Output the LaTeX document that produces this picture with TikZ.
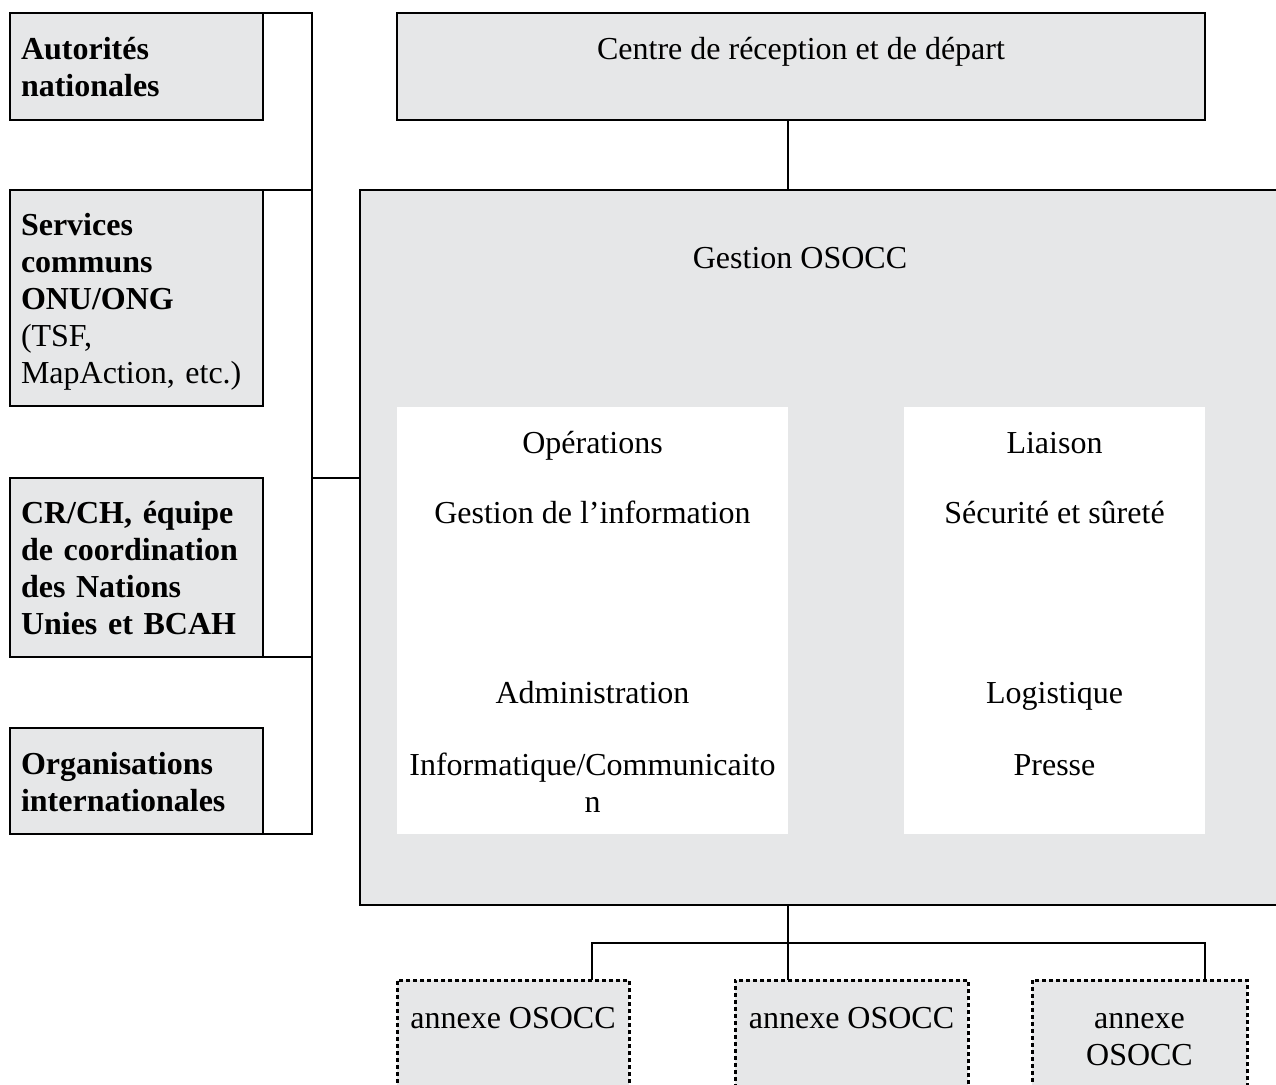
\documentclass[tikz,border=0pt]{standalone}
\usepackage{fontspec}
\setmainfont{Liberation Serif}
\definecolor{boxgray}{RGB}{230,231,232}
\begin{document}
\begin{tikzpicture}[x=0.5pt,y=-0.5pt,
  line width=1pt,
  gbox/.style={draw=black, fill=boxgray, rectangle, inner sep=0pt, outer sep=0pt, line width=1pt},
  wbox/.style={fill=white, rectangle, inner sep=0pt, outer sep=0pt},
  dbox/.style={draw=black, fill=boxgray, rectangle, inner sep=0pt, outer sep=0pt, line width=1.5pt, dash pattern=on 2pt off 1.5pt},
  lefttxt/.style={anchor=base west, inner sep=0pt, text width=120pt, align=left, font=\bfseries\fontsize{16}{18.5}\selectfont},
  ctxt/.style={anchor=base, inner sep=0pt, align=center, font=\fontsize{16}{18.5}\selectfont},
  conn/.style={draw=black, line width=1pt}
]
\useasboundingbox (0,0) rectangle (1276,1084);

% left boxes
\node[gbox, minimum width=126.5pt, minimum height=53.5pt] (auto) at (136.5,66.5) {};
\node[gbox, minimum width=126.5pt, minimum height=108pt] (serv) at (136.5,298) {};
\node[gbox, minimum width=126.5pt, minimum height=89.5pt] (crch) at (136.5,567.5) {};
\node[gbox, minimum width=126.5pt, minimum height=53pt] (org) at (136.5,781) {};

\node[lefttxt] (autot) at (20,59) {Autorités\\nationales};
\node[lefttxt] (servt) at (20,235) {Services\\communs\\ONU/ONG\\\mdseries(TSF,\\\mdseries MapAction, etc.)};
\node[lefttxt] (crcht) at (20,523) {CR/CH, équipe\\de coordination\\des Nations\\Unies et BCAH};
\node[lefttxt] (orgt) at (20,774) {Organisations\\internationales};

% top and main boxes
\node[gbox, minimum width=404pt, minimum height=53.5pt] (centre) at (801,66.5) {};
\node[ctxt] (centret) at (801,59) {Centre de réception et de départ};

\node[gbox, minimum width=470pt, minimum height=357.5pt] (main) at (830,547.5) {};
\node[ctxt] (maint) at (800,268) {Gestion OSOCC};

\node[wbox, minimum width=195.5pt, minimum height=213.5pt] (inl) at (592.5,620.5) {};
\node[wbox, minimum width=150.5pt, minimum height=213.5pt] (inr) at (1054.5,620.5) {};

\node[ctxt] (ops) at (592.5,453) {Opérations};
\node[ctxt] (gi) at (592.5,523) {Gestion de l’information};
\node[ctxt] (adm) at (592.5,703) {Administration};
\node[ctxt, text width=195pt] (ic) at (592.5,775) {Informatique/Communicaito\\n};

\node[ctxt] (lia) at (1054.5,453) {Liaison};
\node[ctxt] (sec) at (1054.5,523) {Sécurité et sûreté};
\node[ctxt] (log) at (1054.5,703) {Logistique};
\node[ctxt] (pre) at (1054.5,775) {Presse};

% annexes
\node[dbox, minimum width=116pt, minimum height=65pt] (an1) at (513,1045) {};
\node[dbox, minimum width=116.5pt, minimum height=65pt] (an2) at (851.5,1045) {};
\node[dbox, minimum width=107.5pt, minimum height=65pt] (an3) at (1139.5,1045) {};
\node[ctxt] (an1t) at (513,1028) {annexe OSOCC};
\node[ctxt] (an2t) at (851.5,1028) {annexe OSOCC};
\node[ctxt, text width=100pt] (an3t) at (1139.5,1028) {annexe\\OSOCC};

% connectors
\coordinate (trunkT) at (312,13);
\coordinate (trunkB) at (312,834);
\coordinate (colx) at (788,0);
\coordinate (barL) at (592,943);
\coordinate (barR) at (1205,943);

\draw[conn] (auto.north east) -- (trunkT) -- (trunkB) -- (org.south east);
\draw[conn] (serv.north east) -- (serv.north east -| trunkT);
\draw[conn] (crch.south east) -- (crch.south east -| trunkT);
\draw[conn] (crch.north east -| trunkT) -- (crch.north east -| main.west);

\draw[conn] (centre.south -| colx) -- (main.north -| colx);
\draw[conn] (main.south -| colx) -- (an2.north -| colx);
\draw[conn] (an1.north -| barL) -- (barL) -- (barR) -- (an3.north -| barR);
\end{tikzpicture}
\end{document}
